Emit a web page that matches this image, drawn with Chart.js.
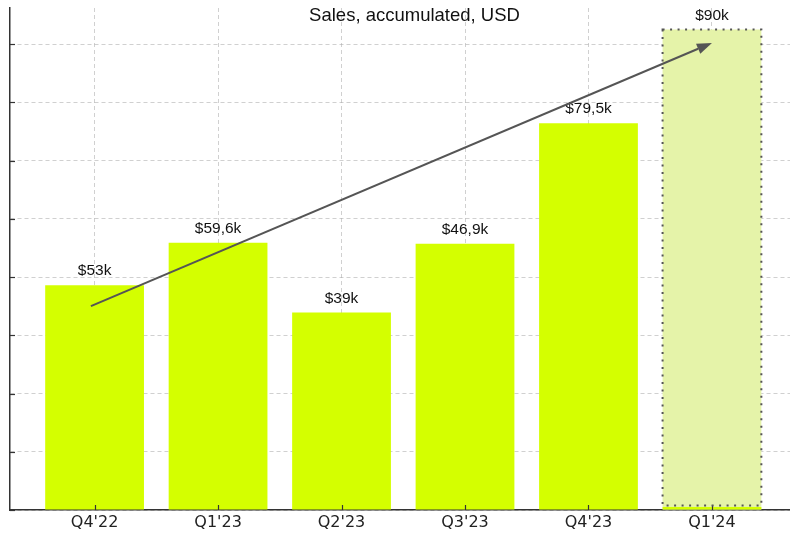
<!DOCTYPE html>
<html>
<head>
<meta charset="utf-8">
<script src="https://cdn.jsdelivr.net/npm/chart.js@4"></script>
<style>
  html, body { margin: 0; padding: 0; background: #fff; overflow: hidden; }
</style>
</head>
<body>
<canvas id="chart" width="790" height="534"></canvas>
<script>
// quarters and bar heights (axis units, y grid step = 10)
const quarters = ["Q4'22", "Q1'23", "Q2'23", "Q3'23", "Q4'23", "Q1'24"];
const salesHeights = [38.6, 45.9, 33.9, 45.7, 66.4, 0.5];
const forecastHeight = 82.5;
const valueLabels = ["$53k", "$59,6k", "$39k", "$46,9k", "$79,5k", "$90k"];
const yTicks = [0, 10, 20, 30, 40, 50, 60, 70, 80];
// trend arrow, from first quarter to the forecast
const arrowFrom = { x: -0.03, y: 35 };
const arrowTo = { x: 5, y: 80.2 };

const lime = "#d4ff00";

const overlay = {
  id: "overlay",
  afterDraw(chart) {
    const ctx = chart.ctx;
    const xs = chart.scales.x, ys = chart.scales.y;
    const area = chart.chartArea;
    ctx.save();

    // inward tick marks
    ctx.strokeStyle = "#333";
    ctx.lineWidth = 1.2;
    ctx.setLineDash([]);
    yTicks.forEach(v => {
      const y = Math.round(ys.getPixelForValue(v)) + 0.5;
      ctx.beginPath();
      ctx.moveTo(area.left, y);
      ctx.lineTo(area.left + 5, y);
      ctx.stroke();
    });
    quarters.forEach((q, i) => {
      const x = Math.round(xs.getPixelForValue(i)) + 0.5;
      ctx.beginPath();
      ctx.moveTo(x, area.bottom);
      ctx.lineTo(x, area.bottom - 5);
      ctx.stroke();
    });

    // dotted outline of forecast bar
    const fb = chart.getDatasetMeta(1).data[0];
    if (fb) {
      const half = fb.width / 2;
      ctx.strokeStyle = "#555";
      ctx.lineWidth = 2;
      ctx.setLineDash([2, 5.5]);
      ctx.strokeRect(fb.x - half, fb.y, fb.width, fb.base - fb.y - 4);
      ctx.setLineDash([]);
    }

    // value labels
    ctx.fillStyle = "#111";
    ctx.font = "15.5px 'Liberation Sans', Arial, sans-serif";
    ctx.textAlign = "center";
    ctx.textBaseline = "alphabetic";
    valueLabels.forEach((t, i) => {
      const h = i === quarters.length - 1 ? forecastHeight : salesHeights[i];
      ctx.fillText(t, xs.getPixelForValue(i), ys.getPixelForValue(h) - 10);
    });

    // trend arrow
    const x1 = xs.getPixelForValue(arrowFrom.x), y1 = ys.getPixelForValue(arrowFrom.y);
    const x2 = xs.getPixelForValue(arrowTo.x), y2 = ys.getPixelForValue(arrowTo.y);
    const ang = Math.atan2(y2 - y1, x2 - x1);
    const headLen = 15, headW = 5.5;
    const bx = x2 - headLen * Math.cos(ang), by = y2 - headLen * Math.sin(ang);
    ctx.strokeStyle = "#555";
    ctx.fillStyle = "#555";
    ctx.lineWidth = 2;
    ctx.beginPath();
    ctx.moveTo(x1, y1);
    ctx.lineTo(bx, by);
    ctx.stroke();
    ctx.beginPath();
    ctx.moveTo(x2, y2);
    ctx.lineTo(bx + headW * Math.sin(ang), by - headW * Math.cos(ang));
    ctx.lineTo(bx - headW * Math.sin(ang), by + headW * Math.cos(ang));
    ctx.closePath();
    ctx.fill();

    // title
    ctx.fillStyle = "#111";
    ctx.font = "18.5px 'Liberation Sans', Arial, sans-serif";
    ctx.fillText("Sales, accumulated, USD", 414.5, 20.5);
    ctx.restore();
  }
};

new Chart(document.getElementById("chart"), {
  type: "bar",
  data: {
    datasets: [
      {
        data: salesHeights.map((v, i) => ({ x: i, y: v })),
        backgroundColor: lime,
        barPercentage: 0.8,
        categoryPercentage: 1.0,
        grouped: false
      },
      {
        data: [{ x: quarters.length - 1, y: forecastHeight }],
        backgroundColor: "#e5f3a9",
        barPercentage: 0.8,
        categoryPercentage: 1.0,
        grouped: false
      }
    ]
  },
  options: {
    responsive: false,
    animation: false,
    layout: { padding: { left: 10, top: 8, right: 0, bottom: 0 } },
    plugins: { legend: { display: false }, tooltip: { enabled: false } },
    scales: {
      x: {
        type: "linear",
        min: -0.685,
        max: 5.632,
        offset: false,
        z: 1,
        afterBuildTicks(scale) {
          scale.ticks = quarters.map((q, i) => ({ value: i }));
        },
        afterFit(scale) { scale.height = 24; },
        ticks: {
          callback: v => quarters[v],
          color: "#222",
          padding: 3,
          maxRotation: 0,
          autoSkip: false,
          font: { family: "'DejaVu Sans'", size: 16 }
        },
        grid: {
          offset: false,
          color: "rgba(170,170,170,0.55)",
          lineWidth: 1,
          drawTicks: false
        },
        border: { display: true, color: "#333", width: 1.5, dash: [4, 3] }
      },
      y: {
        min: 0,
        max: 86.2,
        z: 1,
        afterBuildTicks(scale) {
          scale.ticks = yTicks.map(v => ({ value: v }));
        },
        afterFit(scale) { scale.width = 0; },
        ticks: { display: false },
        grid: {
          color: "rgba(170,170,170,0.55)",
          lineWidth: 1,
          drawTicks: false
        },
        border: { display: true, color: "#333", width: 1.5, dash: [4, 3] }
      }
    }
  },
  plugins: [overlay]
});
</script>
</body>
</html>
